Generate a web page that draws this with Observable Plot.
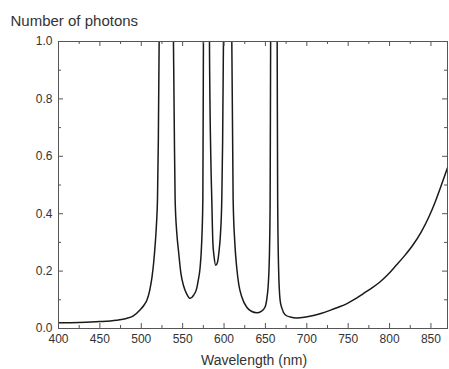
<!DOCTYPE html>
<html>
<head>
<meta charset="utf-8">
<script src="https://cdn.jsdelivr.net/npm/d3@7"></script>
<script src="https://cdn.jsdelivr.net/npm/@observablehq/plot@0.6"></script>
<style>
  html, body { margin: 0; padding: 0; background: #fff; }
</style>
</head>
<body>
<div id="chart"></div>
<script>
// Wavelength (nm) and photon count (values > 1 run off the top)
const wavelength = [
  400, 425, 450, 470, 482, 490, 499, 503, 507, 510, 513, 515, 517, 518.5, 519.6, 520.6,
  521.6, 523, 526, 530, 534, 537, 538.9, 539.9, 540.9, 543, 545, 548, 551, 555, 559, 563,
  567, 569, 571, 573, 574.4, 575.1, 576, 579, 581.5, 582.4, 584, 585.2, 586.5, 588, 590,
  592, 594, 595.5, 597.3, 598.3, 599.3, 601, 604.5, 608, 609.4, 611, 613, 615.4, 618,
  621.5, 627.5, 633, 639.6, 645, 649.6, 652, 653.6, 655, 655.7, 656.3, 660, 664.2, 664.8,
  666, 667.7, 670, 673.8, 680, 688, 697, 708, 718, 728, 738, 748, 758, 768, 778, 788, 798,
  808, 818, 828, 838, 848, 855, 862, 870
];
const photons = [
  0.020, 0.021, 0.024, 0.029, 0.035, 0.043, 0.066, 0.080, 0.100, 0.130, 0.180, 0.230, 0.300, 0.370, 0.450, 0.650,
  1.000, 1.600, 2.600, 3.000, 2.600, 1.600, 1.000, 0.700, 0.450, 0.330, 0.270, 0.190, 0.150, 0.120, 0.105, 0.115,
  0.140, 0.170, 0.210, 0.300, 0.450, 1.000, 1.600, 2.400, 1.600, 1.000, 0.600, 0.450, 0.300, 0.250, 0.220,
  0.230, 0.270, 0.320, 0.450, 0.650, 1.000, 1.800, 2.600, 1.800, 1.000, 0.450, 0.300, 0.210, 0.150,
  0.110, 0.074, 0.060, 0.055, 0.060, 0.075, 0.110, 0.160, 0.280, 0.450, 1.000, 3.000, 1.000, 0.450,
  0.200, 0.100, 0.070, 0.048, 0.040, 0.037, 0.039, 0.045, 0.053, 0.063, 0.074, 0.086, 0.102, 0.121, 0.140, 0.161, 0.188,
  0.220, 0.253, 0.290, 0.335, 0.392, 0.440, 0.495, 0.560
];

const xMajor = [400, 450, 500, 550, 600, 650, 700, 750, 800, 850];
const xMinor = [425, 475, 525, 575, 625, 675, 725, 775, 825];
const yMajor = [0, 0.2, 0.4, 0.6, 0.8, 1.0];
const yMinor = [0.1, 0.3, 0.5, 0.7, 0.9];

const data = wavelength.map((w, i) => ({w, v: photons[i]}));

const W = 449, H = 369;
const mL = 58, mR = 2, mT = 41, mB = 41;
const xDom = [400, 870], yDom = [0, 1];
const pxX = (xDom[1] - xDom[0]) / (W - mL - mR);
const pxY = (yDom[1] - yDom[0]) / (H - mT - mB);
const major = 5, minor = 3;
const ink = "#333";

const chart = Plot.plot({
  width: W,
  height: H,
  marginLeft: mL,
  marginRight: mR,
  marginTop: mT,
  marginBottom: mB,
  style: {fontFamily: "'Liberation Sans', Arial, sans-serif", fontSize: "12px", color: ink, background: "#fff"},
  x: {domain: xDom},
  y: {domain: yDom},
  marks: [
    Plot.line(data, {x: "w", y: "v", stroke: "#1a1a1a", strokeWidth: 1.5, curve: "monotone-x", clip: true}),
    Plot.frame({stroke: "#555", strokeWidth: 1}),
    // bottom & top ticks (inward)
    Plot.ruleX(xMajor, {x: d => d, y1: 0, y2: major * pxY, stroke: "#555"}),
    Plot.ruleX(xMinor, {x: d => d, y1: 0, y2: minor * pxY, stroke: "#555"}),
    Plot.ruleX(xMajor, {x: d => d, y1: 1, y2: 1 - major * pxY, stroke: "#555"}),
    Plot.ruleX(xMinor, {x: d => d, y1: 1, y2: 1 - minor * pxY, stroke: "#555"}),
    // left & right ticks (inward)
    Plot.ruleY(yMajor, {y: d => d, x1: xDom[0], x2: xDom[0] + major * pxX, stroke: "#555"}),
    Plot.ruleY(yMinor, {y: d => d, x1: xDom[0], x2: xDom[0] + minor * pxX, stroke: "#555"}),
    Plot.ruleY(yMajor, {y: d => d, x1: xDom[1], x2: xDom[1] - major * pxX, stroke: "#555"}),
    Plot.ruleY(yMinor, {y: d => d, x1: xDom[1], x2: xDom[1] - minor * pxX, stroke: "#555"}),
    Plot.axisX({ticks: xMajor, tickSize: 0, tickPadding: 6, label: null, fontSize: 12, tickFormat: d3.format("d")}),
    Plot.axisY({ticks: yMajor, tickSize: 0, tickPadding: 6, label: null, fontSize: 12, tickFormat: d3.format(".1f")}),
    Plot.text(["Number of photons"], {frameAnchor: "top-left", dx: -48, dy: -20, textAnchor: "start", lineAnchor: "middle", fontSize: 15, fill: ink}),
    Plot.text(["Wavelength (nm)"], {frameAnchor: "bottom", dx: 1, dy: 32, lineAnchor: "middle", fontSize: 14, fill: ink})
  ]
});
document.getElementById("chart").append(chart);
</script>
</body>
</html>
